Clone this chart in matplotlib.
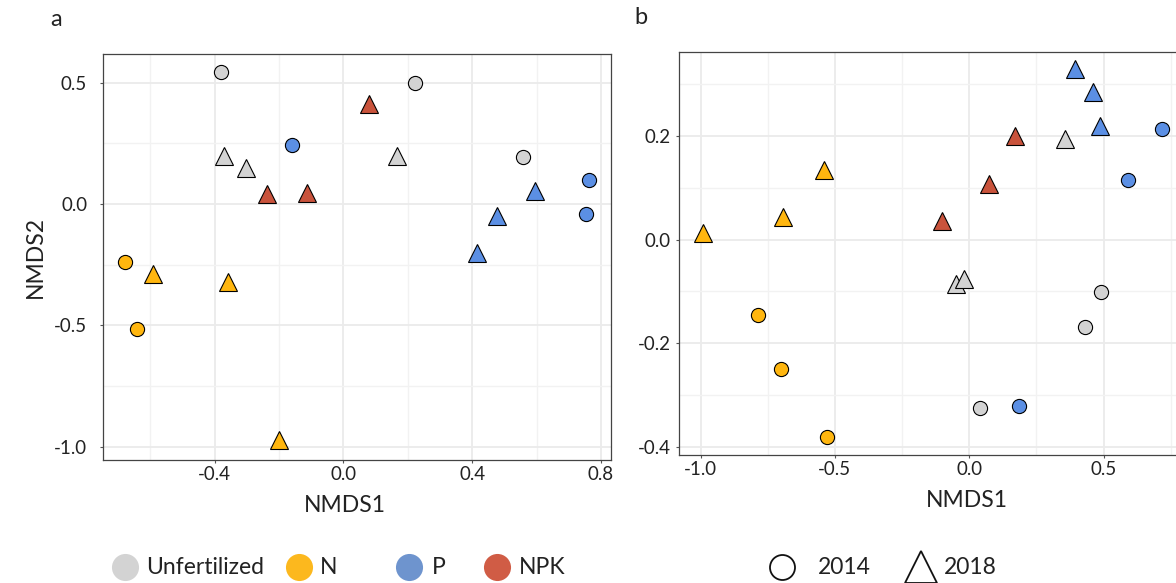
import matplotlib
matplotlib.use("Agg")
import matplotlib.pyplot as plt
from matplotlib.lines import Line2D
from matplotlib.ticker import MultipleLocator

plt.rcParams['font.family'] = ['Lato', 'DejaVu Sans']

# ---------------- data ----------------
treatments = ["Unfertilized", "N", "P", "NPK"]
years = ["2014", "2018"]

# Panel a  (NMDS1, NMDS2) per treatment / year
a_unf_2014_x = [-0.380, 0.223, 0.559]
a_unf_2014_y = [0.543, 0.499, 0.195]
a_unf_2018_x = [-0.372, -0.301, 0.167]
a_unf_2018_y = [0.198, 0.147, 0.199]
a_n_2014_x = [-0.677, -0.642]
a_n_2014_y = [-0.238, -0.516]
a_n_2018_x = [-0.591, -0.357, -0.199]
a_n_2018_y = [-0.288, -0.320, -0.973]
a_p_2014_x = [-0.160, 0.762, 0.753]
a_p_2014_y = [0.245, 0.099, -0.041]
a_p_2018_x = [0.414, 0.477, 0.596]
a_p_2018_y = [-0.203, -0.049, 0.054]
a_npk_2018_x = [0.080, -0.236, -0.114]
a_npk_2018_y = [0.412, 0.040, 0.047]

# Panel b
b_unf_2014_x = [0.041, 0.490, 0.430]
b_unf_2014_y = [-0.326, -0.102, -0.169]
b_unf_2018_x = [-0.051, -0.018, 0.358]
b_unf_2018_y = [-0.085, -0.077, 0.194]
b_n_2014_x = [-0.785, -0.699, -0.529]
b_n_2014_y = [-0.145, -0.250, -0.381]
b_n_2018_x = [-0.993, -0.694, -0.542]
b_n_2018_y = [0.013, 0.044, 0.134]
b_p_2014_x = [0.186, 0.592, 0.717]
b_p_2014_y = [-0.322, 0.115, 0.214]
b_p_2018_x = [0.395, 0.460, 0.488]
b_p_2018_y = [0.330, 0.285, 0.220]
b_npk_2018_x = [-0.100, 0.073, 0.172]
b_npk_2018_y = [0.035, 0.108, 0.200]

xticks_a = [-0.4, 0.0, 0.4, 0.8]
yticks_a = [0.5, 0.0, -0.5, -1.0]
xticks_b = [-1.0, -0.5, 0.0, 0.5]
yticks_b = [0.2, 0.0, -0.2, -0.4]

# ---------------- styles ----------------
point_colors = {"Unfertilized": "#D3D3D3", "N": "#FFB60F", "P": "#5B8FE4", "NPK": "#C9533C"}
legend_colors = {"Unfertilized": "#D3D3D3", "N": "#FCB81E", "P": "#6E94CE", "NPK": "#D05C45"}
markers = {"2014": "o", "2018": "^"}
msize = {"2014": 10.2, "2018": 13.2}

panel_a = [
    ("Unfertilized", "2014", a_unf_2014_x, a_unf_2014_y),
    ("Unfertilized", "2018", a_unf_2018_x, a_unf_2018_y),
    ("N", "2014", a_n_2014_x, a_n_2014_y),
    ("N", "2018", a_n_2018_x, a_n_2018_y),
    ("P", "2014", a_p_2014_x, a_p_2014_y),
    ("P", "2018", a_p_2018_x, a_p_2018_y),
    ("NPK", "2018", a_npk_2018_x, a_npk_2018_y),
]
panel_b = [
    ("Unfertilized", "2014", b_unf_2014_x, b_unf_2014_y),
    ("Unfertilized", "2018", b_unf_2018_x, b_unf_2018_y),
    ("N", "2014", b_n_2014_x, b_n_2014_y),
    ("N", "2018", b_n_2018_x, b_n_2018_y),
    ("P", "2014", b_p_2014_x, b_p_2014_y),
    ("P", "2018", b_p_2018_x, b_p_2018_y),
    ("NPK", "2018", b_npk_2018_x, b_npk_2018_y),
]

W, H = 1176, 583
fig = plt.figure(figsize=(W / 100, H / 100), dpi=100)


def px_axes(left, top, right, bottom):
    return fig.add_axes([left / W, 1 - bottom / H, (right - left) / W, (bottom - top) / H])


ax_a = px_axes(102.5, 54, 611.3, 460)
ax_b = px_axes(679.4, 52.3, 1254, 455.3)


def style(ax, xlim, ylim, xticks, yticks, xminor, yminor, ypad):
    ax.set_xlim(*xlim)
    ax.set_ylim(*ylim)
    ax.set_xticks(xticks)
    ax.set_yticks(yticks)
    ax.set_xticklabels([f"{t:.1f}" for t in xticks])
    ax.set_yticklabels([f"{t:.1f}" for t in yticks])
    ax.xaxis.set_minor_locator(MultipleLocator(xminor))
    ax.yaxis.set_minor_locator(MultipleLocator(yminor))
    ax.grid(True, which="major", color="#EBEBEB", lw=1.3, zorder=0)
    ax.grid(True, which="minor", color="#F2F2F2", lw=1.0, zorder=0)
    ax.set_axisbelow(True)
    for s in ax.spines.values():
        s.set_color("#444444")
        s.set_linewidth(0.9)
    ax.tick_params(which="major", length=2.5, width=0.8, color="#555555",
                   labelsize=13.5, labelcolor="#222222")
    ax.tick_params(axis="x", pad=1.5)
    ax.tick_params(axis="y", pad=ypad)
    ax.tick_params(which="minor", length=0)
    ax.set_xlabel("NMDS1", fontsize=16.5, color="#222222", labelpad=4)


def draw(ax, groups):
    for trt, yr, xs, ys in groups:
        ax.plot(xs, ys, linestyle="none", marker=markers[yr], markersize=msize[yr],
                markerfacecolor=point_colors[trt], markeredgecolor="black",
                markeredgewidth=0.8, zorder=3)


style(ax_a, (-0.748, 0.832), (-1.055, 0.618), xticks_a, yticks_a, 0.2, 0.25, 8.5)
style(ax_b, (-1.079, 1.06), (-0.417, 0.362), xticks_b, yticks_b, 0.25, 0.1, 3.5)
draw(ax_a, panel_a)
draw(ax_b, panel_b)
ax_a.xaxis.set_label_coords(0.477, -0.085)
ax_b.xaxis.set_label_coords(0.5, -0.085)
ax_a.set_ylabel("NMDS2", fontsize=16.5, color="#222222", labelpad=6)

fig.text(50 / W, 1 - 20 / H, "a", fontsize=17, color="#222222", va="center", ha="left")
fig.text(634 / W, 1 - 18 / H, "b", fontsize=17, color="#222222", va="center", ha="left")

# ---------------- legends ----------------
ly = 1 - 567 / H
trt_key_x = [125, 299, 409, 497]
trt_txt_x = [146, 320, 432, 519]
for trt, kx, tx in zip(treatments, trt_key_x, trt_txt_x):
    fig.add_artist(Line2D([kx / W], [ly], transform=fig.transFigure, marker="o",
                          markersize=19.5, markerfacecolor=legend_colors[trt],
                          markeredgecolor="none", linestyle="none"))
    fig.text(tx / W, ly, trt, fontsize=16.5, color="#222222", va="center", ha="left")

yr_key_x = [782, 921]
yr_txt_x = [818, 944]
yr_size = {"2014": 18, "2018": 23}
for yr, kx, tx in zip(years, yr_key_x, yr_txt_x):
    fig.add_artist(Line2D([kx / W], [ly], transform=fig.transFigure, marker=markers[yr],
                          markersize=yr_size[yr], markerfacecolor="none",
                          markeredgecolor="#111111", markeredgewidth=1.3, linestyle="none"))
    fig.text(tx / W, ly, yr, fontsize=16.5, color="#222222", va="center", ha="left")

fig.savefig("out.png", dpi=100)
